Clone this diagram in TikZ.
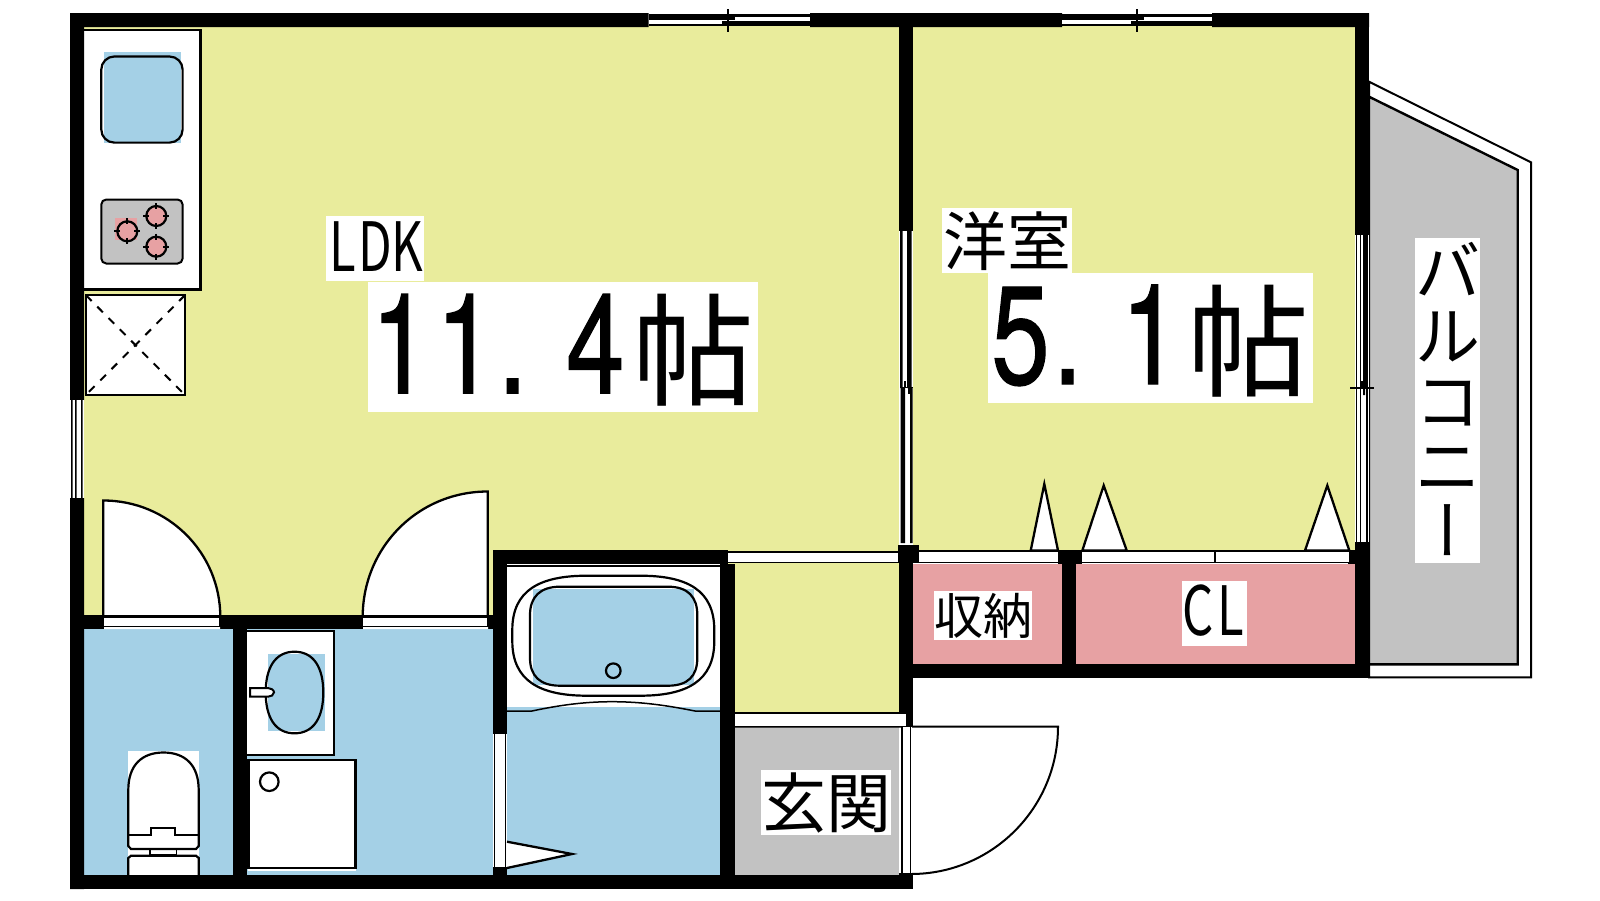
\documentclass[tikz,border=0pt]{standalone}
\usepackage{fontspec}
\newfontfamily\cjk{Noto Sans CJK JP}
\newfontfamily\cjkn[FakeStretch=0.72]{Noto Sans CJK JP}
\newfontfamily\dgt[FakeStretch=0.75,FakeBold=0.8]{TeX Gyre Heros}
\newfontfamily\cjkv[RawFeature=+vert]{Noto Sans CJK JP}
\definecolor{yel}{HTML}{E9EC9C}
\definecolor{blu}{HTML}{A4D0E6}
\definecolor{pnk}{HTML}{E7A1A3}
\definecolor{gry}{HTML}{C2C2C2}
\newcommand\rct[4]{(#1,#2) rectangle (#3,#4)}
\newcommand\hslot[4]{%
  \fill[white] \rct{#1}{#3}{#2}{#4};
  \draw[ln] (#1,#3) -- (#2,#3);
  \draw[ln] (#1,#4) -- (#2,#4);}
\newcommand\bigc[1]{\makebox[32.5pt]{\fontsize{70}{70}\dgt #1}}
\newcommand\bigd{\makebox[32.5pt][l]{\fontsize{70}{70}\dgt .}}
\newcommand\cho{\makebox[65pt]{\raisebox{-1.8pt}{\fontsize{61}{61}\cjk 帖}}}
\newcommand\nar[1]{\makebox[16.3pt]{#1}}
\tikzset{
  ln/.style={black,line width=0.75pt},
  thk/.style={black,line width=1.1pt},
  lbl/.style={fill=white,inner sep=0pt,outer sep=0pt,anchor=base west},
  dr/.style={fill=white,draw=black,line width=1.15pt,line join=miter},
}
\begin{document}
\begin{tikzpicture}[x=0.5pt,y=-0.5pt]
\useasboundingbox[fill=white] (0,0) rectangle (1600,900);
% floors
\fill[yel] \rct{84}{25}{899}{615};
\fill[yel] \rct{913}{25}{1355}{550};
\fill[yel] \rct{735}{563}{899}{713};
\fill[blu] \rct{84}{629}{233}{875};
\fill[blu] \rct{247}{629}{493}{875};
\fill[white] \rct{507}{564}{720}{707};
\fill[blu] \rct{507}{707}{720}{875};
\fill[gry] \rct{735}{727}{899}{875};
\fill[pnk] \rct{913}{564}{1062}{664};
\fill[pnk] \rct{1076}{564}{1355}{664};
% balcony
\draw[black,line width=1pt,fill=white,line join=miter] (1369,81.7) -- (1531,162.3) -- (1531,677.3) -- (1369,677.3) -- cycle;
\draw[black,line width=1.2pt,fill=gry,line join=miter] (1369,96.7) -- (1517.7,170) -- (1517.7,664.3) -- (1369,664.3) -- cycle;
% doors
\filldraw[dr] (103.3,617) -- (103.3,500.5) .. controls (168,500.5) and (220.3,552.4) .. (220.3,617) -- cycle;
\filldraw[dr] (487.7,617) -- (487.7,491.5) .. controls (418,491.5) and (362.7,547.4) .. (362.7,617) -- cycle;
\draw[black,line width=1pt] (735,726.7) -- (1058,726.7) .. controls (1058,808) and (992,874) .. (911,874);
% kitchen counter
\filldraw[dr,line width=1.2pt] (84,30) -- (200.5,30) -- (200.5,289.5) -- (84,289.5);
\fill[blu] \rct{104}{52}{180.7}{143};
\draw[black,line width=1.1pt,rounded corners=6.5pt] \rct{101.3}{56.5}{182.6}{142.6};
\filldraw[fill=gry,draw=black,line width=1pt,rounded corners=2.5pt] \rct{101.3}{199.5}{182.6}{263.5};
\fill[pnk] \rct{115}{218}{137.3}{240};
\foreach \cx/\cy in {127.3/231.3,156.3/216,156.3/246.7}{
  \filldraw[fill=pnk,draw=black,line width=1.1pt] (\cx,\cy) circle[radius=10];
  \draw[black,line width=1.1pt] (\cx-13,\cy) -- (\cx-7,\cy) (\cx+7,\cy) -- (\cx+13,\cy) (\cx,\cy-13) -- (\cx,\cy-7) (\cx,\cy+7) -- (\cx,\cy+13);
}
% fridge space
\filldraw[dr,line width=1pt] \rct{86}{295.3}{184.8}{394.8};
\draw[black,line width=1pt,dash pattern=on 4pt off 4pt] (86,295.3) -- (184.8,394.8);
\draw[black,line width=1pt,dash pattern=on 4pt off 4pt] (184.8,295.3) -- (86,394.8);
% walls
\fill[black] \rct{70}{13}{648.5}{27} \rct{810}{13}{1062}{27} \rct{1212}{13}{1369}{27};
\fill[black] \rct{70}{13}{84}{400} \rct{70}{498}{84}{889};
\fill[black] \rct{70}{875}{913}{889};
\fill[black] \rct{899}{13}{913}{231};
\fill[black] \rct{1355}{13}{1369}{235};
\fill[black] \rct{70}{615}{493}{629};
\fill[black] \rct{233}{615}{247}{875};
\fill[black] \rct{493}{550}{728}{564};
\fill[black] \rct{493}{550}{507}{734};
\fill[black] \rct{493}{867}{507}{875};
\fill[black] \rct{720}{564}{735}{875};
\fill[black] \rct{898}{545}{919}{563};
\fill[black] \rct{899}{563}{913}{727};
\fill[black] \rct{899}{873}{913}{889};
\fill[black] \rct{1057.7}{550}{1082.3}{564};
\fill[black] \rct{1062.3}{550}{1076}{664};
\fill[black] \rct{1348}{550}{1369}{564};
\fill[black] \rct{1355}{542}{1369}{678};
\fill[black] \rct{899}{664}{1369}{678};
% top windows
\foreach \xa/\xm/\xb in {648.5/728/810,1062/1137/1212}{
  \fill[black] \rct{\xa}{14}{\xb}{25.5};
  \fill[white] \rct{\xa}{20}{\xm}{24};
  \fill[white] \rct{\xm}{16.7}{\xb}{21.3};
  \fill[black] \rct{\xm-6}{21}{\xm}{24};
  \fill[black] \rct{\xm}{17}{\xm+7}{20};
  \draw[ln] (\xm,9) -- (\xm,32);
}
% left window
\fill[white] \rct{70}{400}{84}{498};
\fill[black] \rct{71}{400}{72.7}{498} \rct{75}{400}{76.7}{498} \rct{81}{400}{82.7}{498};
% door slots in the lower wall
\fill[white] \rct{104.3}{617.5}{219.3}{626};
\fill[white] \rct{363.3}{617.5}{486.7}{626};
\fill[white] \rct{104}{627}{220}{629} \rct{363}{627}{488}{629};
% middle window
\fill[white] \rct{899.5}{231}{913}{543};
\fill[black] \rct{900}{231}{902.7}{388} \rct{907}{231}{911.5}{388};
\fill[black] \rct{900.7}{388}{905}{543} \rct{910}{388}{912.7}{543};
\fill[yel] \rct{912.7}{231}{913}{543};
\draw[ln] (900,387.7) -- (913,387.7);
\fill[black] \rct{904}{381}{905.5}{388};
\fill[black] \rct{908}{388}{909.5}{394};
% right window
\fill[white] \rct{1355}{235}{1369}{542};
\fill[black] \rct{1355.5}{235}{1356.8}{542};
\fill[black] \rct{1359.5}{235}{1361}{542};
\fill[black] \rct{1363}{235}{1368}{388};
\fill[black] \rct{1365.7}{388}{1367.5}{542};
\draw[ln] (1350,388) -- (1374,388);
\fill[black] \rct{1361}{381}{1363}{388} \rct{1363}{388}{1365}{395};
% slots
\hslot{728}{897.7}{552}{562.3}
\hslot{735}{906}{713}{726.7}
\hslot{919.3}{1057.7}{551}{562.7}
\hslot{1082.3}{1349}{551}{562.7}
\draw[ln] (1215,551) -- (1215,562.7);
% bath window + entrance window
\fill[white] \rct{494.5}{734}{505.5}{867};
\draw[ln] (494.5,734) -- (494.5,868) (505.7,734) -- (505.7,868);
\fill[white] \rct{900.7}{727}{912}{873};
\fill[black] \rct{900.7}{727}{903}{873};
\draw[ln] (910.7,727) -- (910.7,873);
% closet doors
\filldraw[dr] (1030.7,550.5) -- (1044.3,484) -- (1058,550.5) -- cycle;
\filldraw[dr] (1082.3,550.5) -- (1103.7,485.5) -- (1126.7,550.5) -- cycle;
\filldraw[dr] (1305,550.5) -- (1327.3,485.5) -- (1349.3,550.5) -- cycle;
% bath
\draw[ln] (507,566) -- (720,566);
\fill[blu] \rct{533}{589}{694.3}{685};
\draw[thk] (587,575.7) -- (640,575.7) .. controls (687,575.7) and (714.3,590) .. (714.3,630) -- (714.3,641) .. controls (714.3,681) and (687,695.7) .. (640,695.7) -- (587,695.7) .. controls (540,695.7) and (512.3,681) .. (512.3,641) -- (512.3,630) .. controls (512.3,590) and (540,575.7) .. cycle;
\draw[thk] (560,586.7) -- (668,586.7) .. controls (688,586.7) and (697.3,597) .. (697.3,615) -- (697.3,658) .. controls (697.3,676) and (688,685.7) .. (668,685.7) -- (560,685.7) .. controls (540,685.7) and (530,676) .. (530,658) -- (530,615) .. controls (530,597) and (540,586.7) .. cycle;
\draw[thk] (613.3,670.7) circle[radius=7.3];
\draw[ln] (507,711) -- (532,711) .. controls (560,705) and (585,701.7) .. (612,701.7) .. controls (640,701.7) and (665,705) .. (695,711) -- (720,711);
\filldraw[dr] (507,841.7) -- (572,854) -- (507,868);
% washbasin
\filldraw[dr,line width=1.2pt] (247,630.7) -- (334,630.7) -- (334,755) -- (247,755);
\fill[blu] \rct{268.3}{654}{325}{730.7};
\draw[thk] (294.5,651.7) .. controls (314,651.7) and (323.3,668) .. (323.3,692.5) .. controls (323.3,717) and (314,733.3) .. (294.5,733.3) .. controls (275,733.3) and (265.7,717) .. (265.7,692.5) .. controls (265.7,668) and (275,651.7) .. cycle;
\filldraw[fill=white,draw=black,line width=1pt] (250,688) -- (268,688) .. controls (271,688) and (274,690) .. (274,692.3) .. controls (274,695) and (271,696.7) .. (268,696.7) -- (250,696.7) -- cycle;
% washing machine
\fill[white] \rct{247.7}{760}{356}{871};
\draw[black,line width=1.2pt] \rct{248.5}{760}{355.5}{868};
\draw[thk] (269.3,781.7) circle[radius=9.3];
% toilet
\fill[white] \rct{128}{751}{199}{875};
\draw[thk] (128.3,835) -- (128.3,790) .. controls (128.3,765) and (142,752.5) .. (163.5,752.5) .. controls (185,752.5) and (198.7,765) .. (198.7,790) -- (198.7,835);
\draw[thk] (128.3,835) -- (150.7,835) -- (150.7,828.3) -- (175,828.3) -- (175,835) -- (198.7,835);
\draw[thk] (128.3,835) -- (128.3,846) -- (131,849) -- (196,849) -- (198.7,846) -- (198.7,835);
\draw[ln] (150,849) -- (150,855) (176.7,849) -- (176.7,855);
\draw[ln] (150,855) -- (176.7,855);
\draw[thk] (128.3,875) -- (128.3,858) -- (131,855.7) -- (196,855.7) -- (198.7,858) -- (198.7,875);
% labels
\node[lbl,minimum width=49pt,text height=27.85pt,text depth=4.5pt,font=\fontsize{34}{34}\cjkn] (ldk) at (326,271.7) {\nar{L}\nar{D}\nar{K}};
\node[lbl,minimum width=195pt,text height=55.65pt,text depth=9.2pt] (ldkm) at (368,393.3) {\bigc{1}\bigc{1}\bigd\bigc{4}\cho};
\node[lbl,minimum width=65pt,text height=28.5pt,text depth=4pt,font=\fontsize{32}{32}\cjk] (yo) at (942,265) {洋室};
\node[lbl,minimum width=162.5pt,text height=55.65pt,text depth=9.35pt] (yom) at (988,384) {\bigc{5}\bigd\bigc{1}\cho};
\node[lbl,minimum width=49pt,text height=21.5pt,text depth=3pt,font=\fontsize{24.5}{24.5}\cjk] (sn) at (934,634) {収納};
\node[lbl,minimum width=32.5pt,text height=27.15pt,text depth=5.5pt,font=\fontsize{34}{34}\cjkn] (cl) at (1182,635) {\nar{C}\nar{L}};
\node[lbl,minimum width=65pt,text height=28.5pt,text depth=4pt,font=\fontsize{32.5}{32.5}\cjk] (gk) at (761,827) {玄関};
\node[fill=white,inner sep=0pt,outer sep=0pt,anchor=north,text width=32.5pt,align=center,minimum height=162.5pt,font=\fontsize{32.5}{32.5}\cjk] (bal) at (1447.5,238) {\rule{0pt}{28.6pt}バ\\ル\\コ\\ニ\\{\cjkv ー}\rule[-3.9pt]{0pt}{3.9pt}};
\end{tikzpicture}
\end{document}
